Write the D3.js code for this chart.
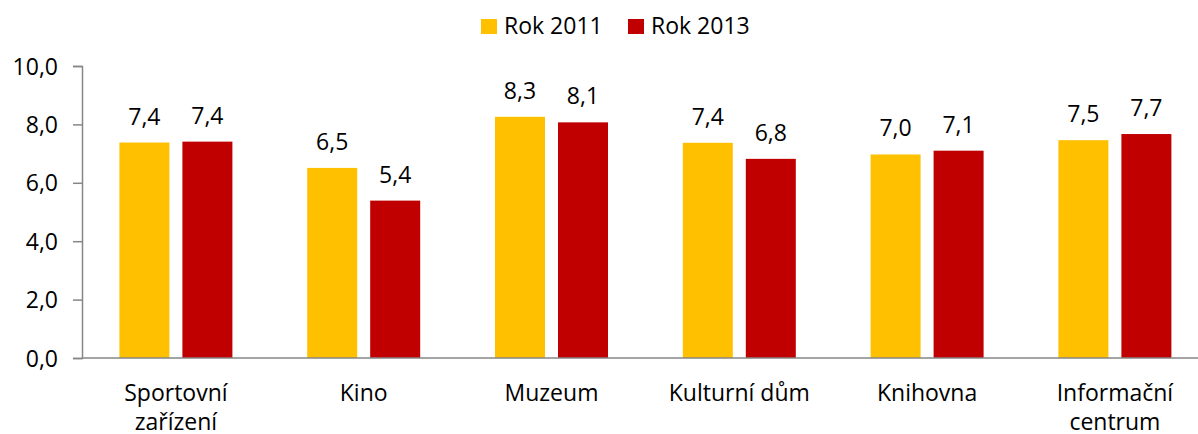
<!DOCTYPE html>
<html>
<head>
<meta charset="utf-8">
<script src="https://cdn.jsdelivr.net/npm/d3@7"></script>
<style>
  body { margin: 0; background: #fff; }
  svg text { font-family: "Open Sans", "Noto Sans", sans-serif; fill: #000; }
</style>
</head>
<body>
<div id="chart"></div>
<script>
// chart data
var categories = [["Sportovní", "zařízení"], ["Kino"], ["Muzeum"], ["Kulturní dům"], ["Knihovna"], ["Informační", "centrum"]];
var seriesNames = ["Rok 2011", "Rok 2013"];
var values2011 = [7.38, 6.51, 8.26, 7.37, 6.97, 7.46];
var values2013 = [7.41, 5.39, 8.07, 6.82, 7.10, 7.67];
var yTicks = [0, 2, 4, 6, 8, 10];
var colors = ["#FFC000", "#C00000"];

var width = 1198, height = 434;
var plotLeft = 82, plotTop = 66, plotBottom = 358;
var fontSize = '23px';

var svg = d3.select('#chart').append('svg')
    .attr('width', width)
    .attr('height', height);

var x = d3.scaleBand()
    .domain(d3.range(categories.length))
    .range([plotLeft, plotLeft + 6 * 187.8]);

var y = d3.scaleLinear().domain([0, 10]).range([plotBottom, plotTop]);

var fmt = function(v){ return v.toFixed(1).replace('.', ','); };

// y axis
var yAxis = svg.append('g')
    .attr('transform', 'translate(' + plotLeft + ',0)')
    .call(d3.axisLeft(y).tickValues(yTicks).tickSize(9).tickPadding(15).tickFormat(fmt));
yAxis.select('.domain').attr('stroke', '#868686').attr('stroke-width', 1.5);
yAxis.selectAll('.tick line').attr('stroke', '#868686').attr('stroke-width', 1.5);
yAxis.selectAll('.tick text').style('font-size', fontSize).attr('dy', '0.35em').attr('fill', '#000');

// bars
var barW = 50, gap = 13;
var series = [values2011, values2013];
series.forEach(function(vals, s){
    var bx = function(i){ return x(i) + x.bandwidth() / 2 + (s === 0 ? -(gap / 2 + barW) : gap / 2); };
    svg.append('g').selectAll('rect').data(vals).enter().append('rect')
        .attr('x', function(d, i){ return bx(i); })
        .attr('y', function(d){ return y(d); })
        .attr('width', barW)
        .attr('height', function(d){ return plotBottom - y(d); })
        .attr('fill', colors[s]);
    svg.append('g').selectAll('text').data(vals).enter().append('text')
        .attr('x', function(d, i){ return bx(i) + barW / 2; })
        .attr('y', function(d){ return y(d) - 18; })
        .attr('text-anchor', 'middle')
        .style('font-size', fontSize)
        .text(fmt);
});

// x axis line
svg.append('line')
    .attr('x1', plotLeft).attr('x2', width)
    .attr('y1', plotBottom).attr('y2', plotBottom)
    .attr('stroke', '#868686').attr('stroke-width', 1.5);

// category labels
var cat = svg.append('g').selectAll('text').data(categories).enter().append('text')
    .attr('x', function(d, i){ return x(i) + x.bandwidth() / 2; })
    .attr('y', 401)
    .attr('text-anchor', 'middle')
    .style('font-size', fontSize);
cat.selectAll('tspan').data(function(d){ return d; }).enter().append('tspan')
    .attr('x', function(){ return this.parentNode.getAttribute('x'); })
    .attr('dy', function(d, j){ return j === 0 ? 0 : 29; })
    .text(function(d){ return d; });

// legend
var legendX = [481, 628];
var lg = svg.append('g').selectAll('g').data(seriesNames).enter().append('g')
    .attr('transform', function(d, i){ return 'translate(' + legendX[i] + ',19)'; });
lg.append('rect').attr('width', 16).attr('height', 15)
    .attr('fill', function(d, i){ return colors[i]; });
lg.append('text').attr('x', 23).attr('y', 15)
    .style('font-size', fontSize)
    .text(function(d){ return d; });
</script>
</body>
</html>
